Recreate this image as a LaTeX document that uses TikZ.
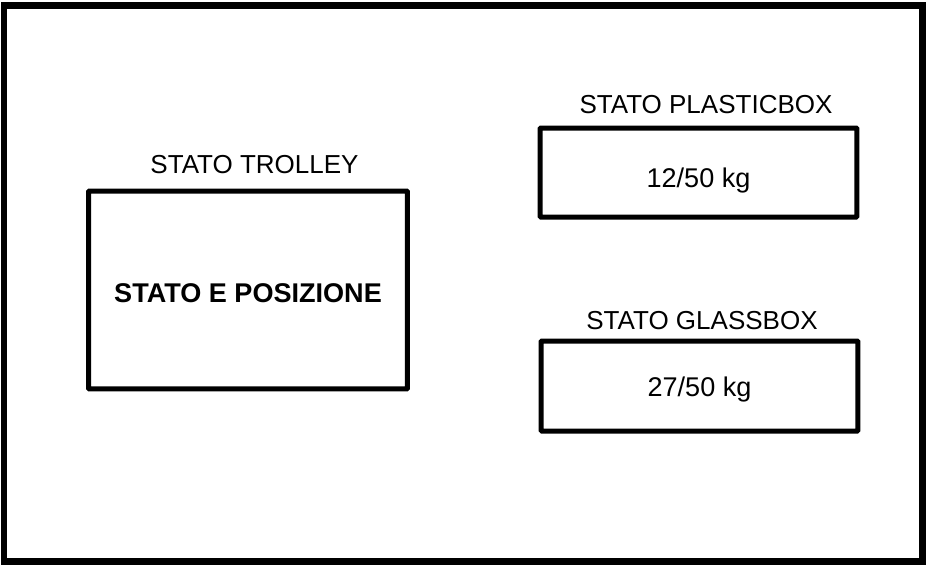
\documentclass[tikz,border=0pt]{standalone}
\usepackage{fontspec}
\setmainfont{Liberation Sans}
\usetikzlibrary{positioning}

\begin{document}
\begin{tikzpicture}[x=0.02cm,y=-0.02cm]

% ---------- common style ----------
\tikzset{
  frame/.style={draw=black,line width=0.14cm},
  statebox/.style={draw=black,line width=0.1cm,rounded corners=0.5pt,inner sep=0pt,
    font=\fontsize{15.4}{18}\selectfont},
  title/.style={inner sep=0pt,font=\fontsize{14.8}{18}\selectfont}
}

\useasboundingbox (0,0) rectangle (929,566);

% outer frame
\draw[frame] (4,5) rectangle (922,561);

% ================== trolley ==================
\node[statebox,minimum width=6.38cm,minimum height=3.96cm]
      (trolley) at (248,290) {\raisebox{-0.06cm}[\height][\depth]{\bfseries STATO E POSIZIONE}};
\node[title,above=0.28cm of trolley,xshift=0.13cm] (trolleytitle) {STATO TROLLEY};

% ================== plastic box ==================
\node[statebox,minimum width=6.34cm,minimum height=1.78cm]
      (plastic) at (698.5,172.5) {\raisebox{-0.16cm}[\height][\depth]{12/50 kg}};
\node[title,above=0.22cm of plastic,xshift=0.15cm] (plastictitle) {STATO PLASTICBOX};

% ================== glass box ==================
\node[statebox,minimum width=6.34cm,minimum height=1.80cm]
      (glass) at (699.5,386) {\raisebox{-0.06cm}[\height][\depth]{27/50 kg}};
\node[title,above=0.16cm of glass,xshift=0.05cm] (glasstitle) {STATO GLASSBOX};

\end{tikzpicture}
\end{document}
